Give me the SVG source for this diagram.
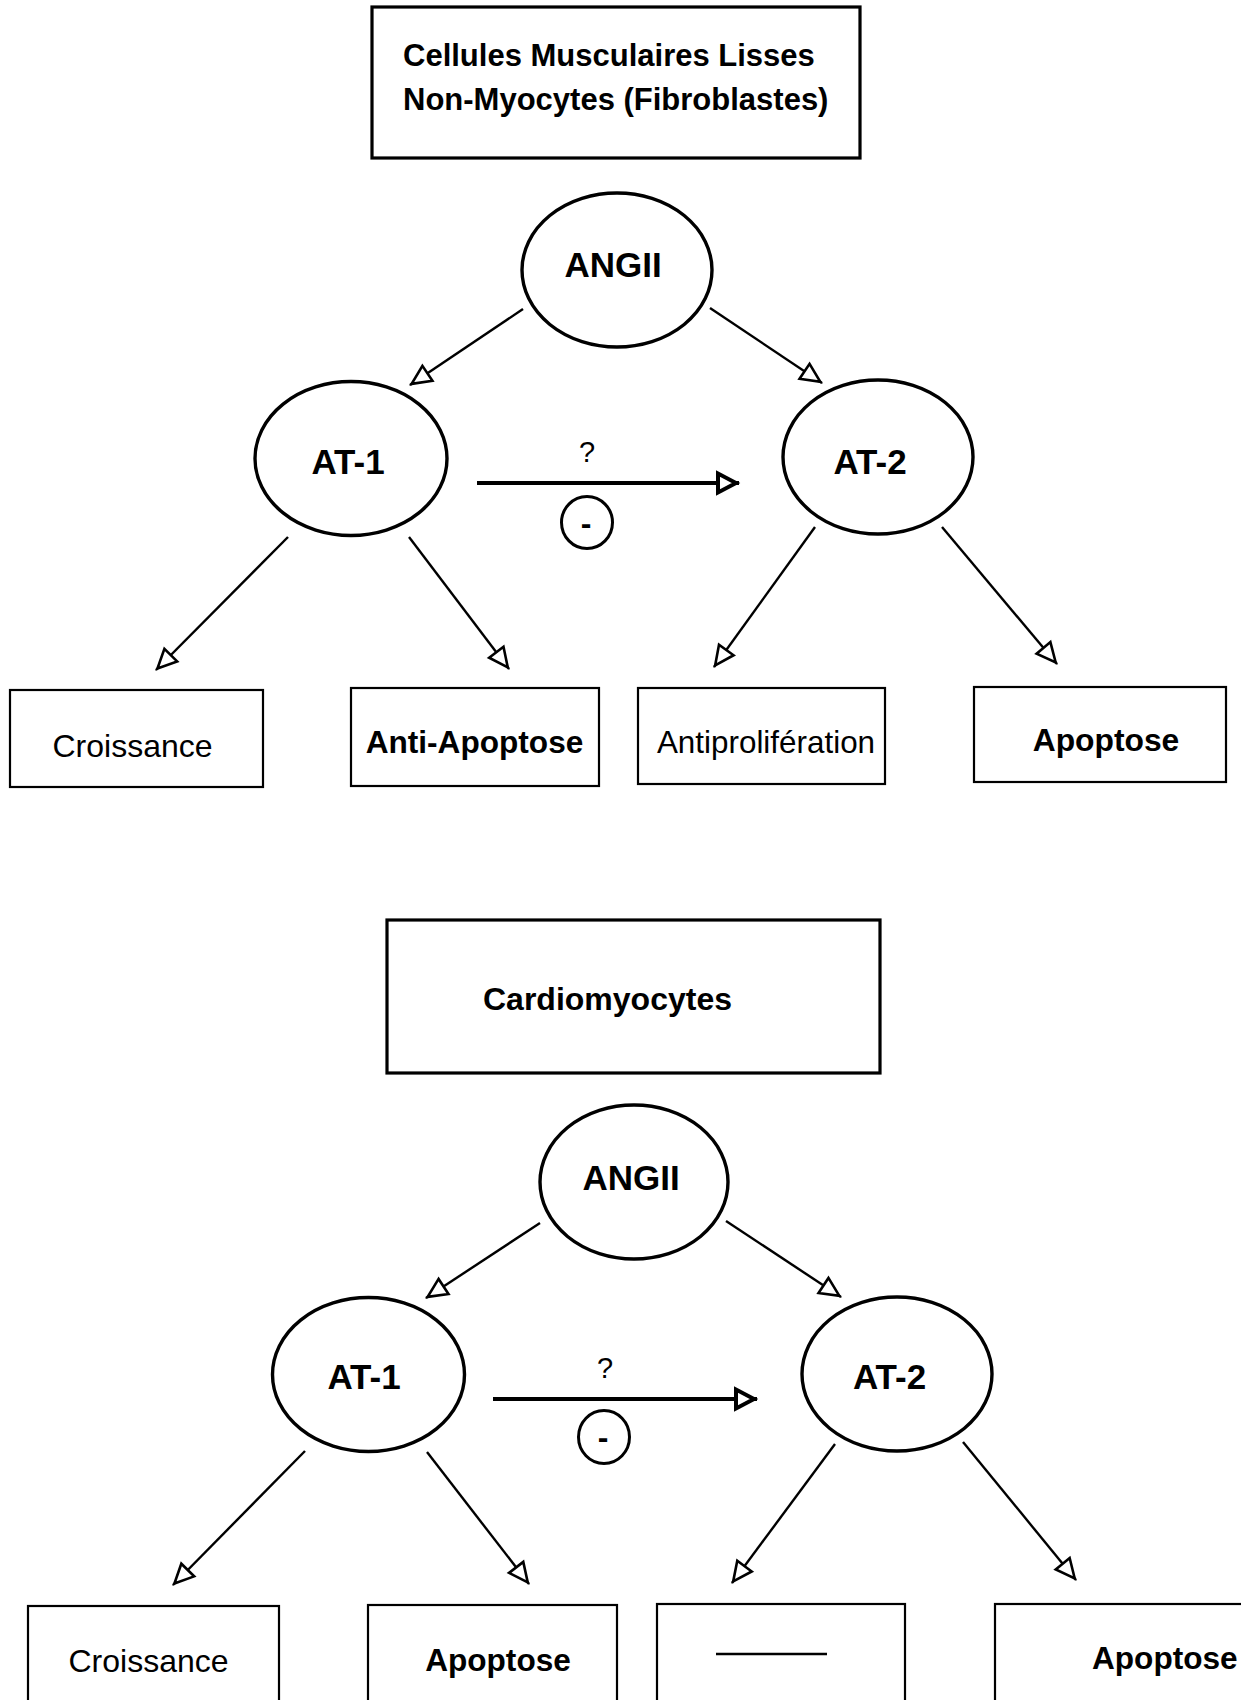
<svg xmlns="http://www.w3.org/2000/svg" width="1241" height="1700" viewBox="0 0 1241 1700">
<style>
  .bg { fill: #ffffff; }
  .title { fill: #ffffff; stroke: #000; stroke-width: 3.2; }
  .box { fill: #ffffff; stroke: #000; stroke-width: 2.2; }
  .ell { fill: #ffffff; stroke: #000; stroke-width: 3.4; }
  .minus { fill: #ffffff; stroke: #000; stroke-width: 3; }
  .edge { stroke: #000; stroke-width: 2.4; fill: none; marker-end: url(#open); }
  .inhib { stroke: #000; stroke-width: 3.8; fill: none; marker-end: url(#openBold); }
  .t { font-family: "Liberation Sans", Arial, Helvetica, sans-serif; fill: #000; }
  .b { font-weight: bold; }
  .c { text-anchor: middle; }
</style>
<defs>
  <marker id="open" markerUnits="userSpaceOnUse" viewBox="-26 -14 30 28" markerWidth="30" markerHeight="28" refX="0" refY="0" orient="auto" overflow="visible">
    <path d="M-2,0 L-21,-9 L-21,9 Z" fill="#fff" stroke="#000" stroke-width="2.6" stroke-linejoin="miter"/>
  </marker>
  <marker id="openBold" markerUnits="userSpaceOnUse" viewBox="-28 -16 32 32" markerWidth="32" markerHeight="32" refX="0" refY="0" orient="auto" overflow="visible">
    <path d="M-3,0 L-21,-9.5 L-21,9.5 Z" fill="#fff" stroke="#000" stroke-width="4" stroke-linejoin="miter"/>
  </marker>
</defs>
<rect class="bg" x="0" y="0" width="1241" height="1700"/>

<g id="connectors">
  <line class="edge" x1="523" y1="309" x2="410" y2="385"/>
  <line class="edge" x1="710" y1="308" x2="822" y2="383"/>
  <line class="edge" x1="288" y1="537" x2="156" y2="670"/>
  <line class="edge" x1="409" y1="537" x2="509" y2="669"/>
  <line class="edge" x1="815" y1="527" x2="714" y2="667"/>
  <line class="edge" x1="942" y1="527" x2="1057" y2="664"/>
  <line class="inhib" x1="477" y1="483" x2="739" y2="483"/>

  <line class="edge" x1="540" y1="1223" x2="426" y2="1298"/>
  <line class="edge" x1="726" y1="1221" x2="841" y2="1297"/>
  <line class="edge" x1="305" y1="1451" x2="173" y2="1585"/>
  <line class="edge" x1="427" y1="1452" x2="529" y2="1584"/>
  <line class="edge" x1="835" y1="1444" x2="732" y2="1583"/>
  <line class="edge" x1="963" y1="1442" x2="1076" y2="1580"/>
  <line class="inhib" x1="493" y1="1399" x2="757" y2="1399"/>
</g>

<!-- Top section -->
<g id="title-top">
  <rect class="title" x="372" y="7" width="488" height="151"/>
  <text class="t b" x="403" y="66" font-size="31">Cellules Musculaires Lisses</text>
  <text class="t b" x="403" y="110" font-size="31">Non-Myocytes (Fibroblastes)</text>
</g>
<g id="angii-top">
  <ellipse class="ell" cx="617" cy="270" rx="95" ry="77"/>
  <text class="t b c" x="613" y="277" font-size="35">ANGII</text>
</g>
<g id="at1-top">
  <ellipse class="ell" cx="351" cy="458.5" rx="96" ry="77"/>
  <text class="t b c" x="348" y="474" font-size="35">AT-1</text>
</g>
<g id="at2-top">
  <ellipse class="ell" cx="878" cy="457" rx="95" ry="77"/>
  <text class="t b c" x="870" y="474" font-size="35">AT-2</text>
</g>
<g id="q-top">
  <text class="t c" x="587" y="462" font-size="29">?</text>
</g>
<g id="minus-top">
  <ellipse class="minus" cx="587" cy="522.5" rx="25.5" ry="26"/>
  <text class="t b c" x="586" y="534" font-size="32">-</text>
</g>
<g id="croissance-top">
  <rect class="box" x="10" y="690" width="253" height="97"/>
  <text class="t c" x="132.5" y="757" font-size="32">Croissance</text>
</g>
<g id="antiapoptose-top">
  <rect class="box" x="351" y="688" width="248" height="98"/>
  <text class="t b c" x="474.5" y="753" font-size="31.6">Anti-Apoptose</text>
</g>
<g id="antiproliferation-top">
  <rect class="box" x="638" y="688" width="247" height="96"/>
  <text class="t c" x="766" y="753" font-size="31.4">Antiprolifération</text>
</g>
<g id="apoptose-top">
  <rect class="box" x="974" y="687" width="252" height="95"/>
  <text class="t b c" x="1106" y="751" font-size="31.8">Apoptose</text>
</g>

<!-- Bottom section -->
<g id="title-bottom">
  <rect class="title" x="387" y="920" width="493" height="153"/>
  <text class="t b" x="483" y="1010" font-size="32">Cardiomyocytes</text>
</g>
<g id="angii-bottom">
  <ellipse class="ell" cx="634" cy="1182" rx="94" ry="77"/>
  <text class="t b c" x="631" y="1190" font-size="35">ANGII</text>
</g>
<g id="at1-bottom">
  <ellipse class="ell" cx="368.5" cy="1374.5" rx="96" ry="77"/>
  <text class="t b c" x="364" y="1389" font-size="35">AT-1</text>
</g>
<g id="at2-bottom">
  <ellipse class="ell" cx="897" cy="1374" rx="95" ry="77"/>
  <text class="t b c" x="889.5" y="1389" font-size="35">AT-2</text>
</g>
<g id="q-bottom">
  <text class="t c" x="605" y="1378" font-size="29">?</text>
</g>
<g id="minus-bottom">
  <ellipse class="minus" cx="604" cy="1437" rx="25.5" ry="26.5"/>
  <text class="t b c" x="603" y="1448" font-size="32">-</text>
</g>
<g id="croissance-bottom">
  <rect class="box" x="28" y="1606" width="251" height="98"/>
  <text class="t c" x="148.5" y="1672" font-size="32">Croissance</text>
</g>
<g id="apoptose-bottom-1">
  <rect class="box" x="368" y="1605" width="249" height="99"/>
  <text class="t b c" x="498" y="1671" font-size="31.6">Apoptose</text>
</g>
<g id="none-bottom">
  <rect class="box" x="657" y="1604" width="248" height="100"/>
  <line x1="716" y1="1654" x2="827" y2="1654" stroke="#000" stroke-width="2.6"/>
</g>
<g id="apoptose-bottom-2">
  <rect class="box" x="995" y="1604" width="252" height="100"/>
  <text class="t b" x="1092" y="1669" font-size="31.6">Apoptose</text>
</g>
</svg>
